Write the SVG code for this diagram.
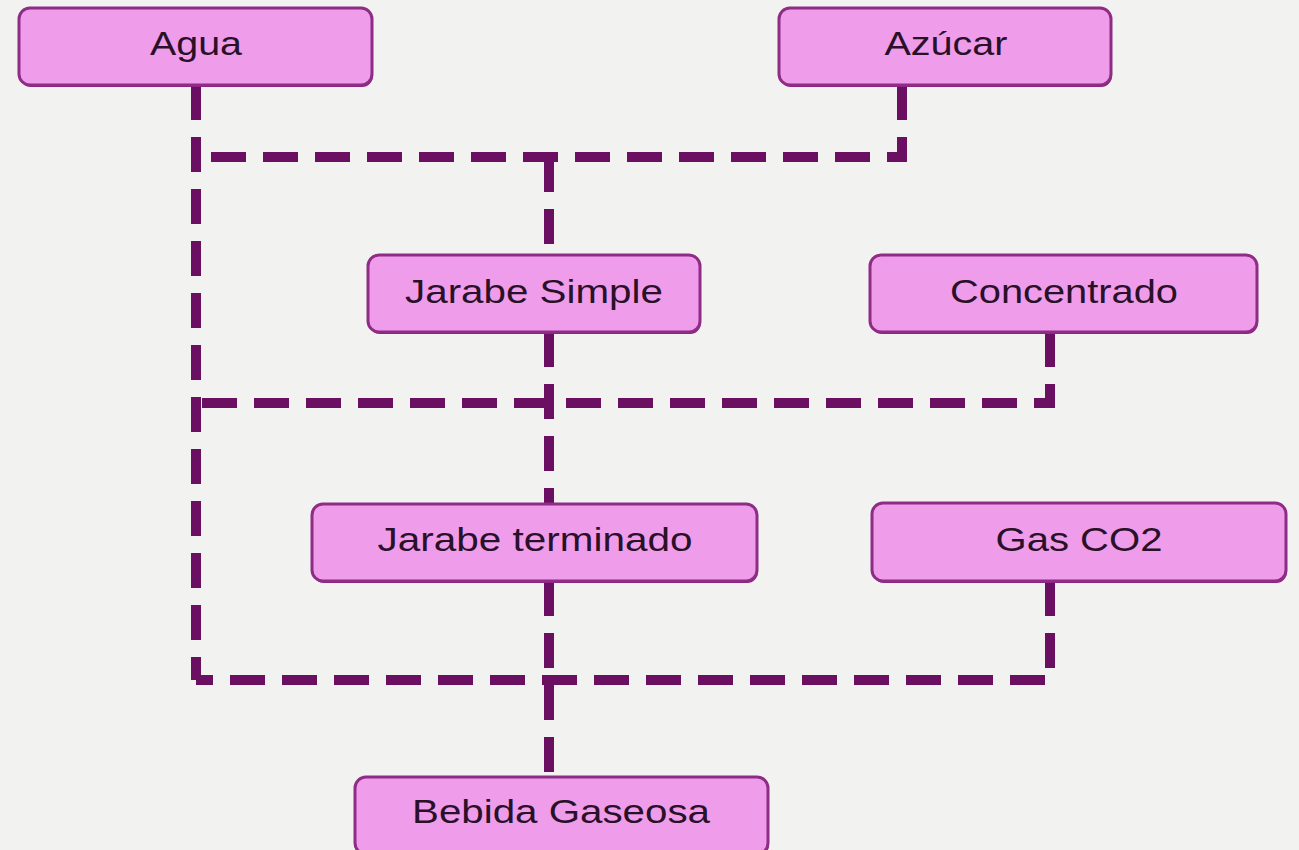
<svg xmlns="http://www.w3.org/2000/svg" width="1299" height="850" viewBox="0 0 1299 850">
<style>
.box{fill:#ef9dea;stroke:#8e2c86;stroke-width:3}
.sh{fill:#8a1f80}
.lbl{font-family:"Liberation Sans",Arial,sans-serif;font-size:33px;fill:#2a1028;text-anchor:middle}
.con{fill:none;stroke:#6a0f62;stroke-width:10;stroke-dasharray:35 17;stroke-linejoin:miter}
</style>
<rect x="0" y="0" width="1299" height="850" fill="#f2f2f0"/>
<g id="connectors">
<path class="con" d="M196 85 V680"/>
<path class="con" d="M902 85 V157 H196"/>
<path class="con" d="M1050 332 V403 H196"/>
<path class="con" d="M1050 581 V680 H196"/>
<path class="con" d="M549 157 V256"/>
<path class="con" d="M549 332 V504"/>
<path class="con" d="M549 581 V777"/>
</g>
<g id="agua"><rect class="sh" x="20" y="10" width="353" height="77" rx="11"/><rect class="box" x="19" y="8" width="353" height="77" rx="11"/><text class="lbl" x="196" y="55" textLength="92" lengthAdjust="spacingAndGlyphs">Agua</text></g>
<g id="azucar"><rect class="sh" x="780" y="10" width="332" height="77" rx="11"/><rect class="box" x="779" y="8" width="332" height="77" rx="11"/><text class="lbl" x="946" y="55" textLength="123" lengthAdjust="spacingAndGlyphs">Azúcar</text></g>
<g id="jarabe-simple"><rect class="sh" x="369" y="257" width="332" height="77" rx="11"/><rect class="box" x="368" y="255" width="332" height="77" rx="11"/><text class="lbl" x="534" y="303" textLength="258" lengthAdjust="spacingAndGlyphs">Jarabe Simple</text></g>
<g id="concentrado"><rect class="sh" x="871" y="257" width="387" height="77" rx="11"/><rect class="box" x="870" y="255" width="387" height="77" rx="11"/><text class="lbl" x="1064" y="303" textLength="228" lengthAdjust="spacingAndGlyphs">Concentrado</text></g>
<g id="jarabe-terminado"><rect class="sh" x="313" y="506" width="445" height="77" rx="11"/><rect class="box" x="312" y="504" width="445" height="77" rx="11"/><text class="lbl" x="535" y="551" textLength="315" lengthAdjust="spacingAndGlyphs">Jarabe terminado</text></g>
<g id="gas-co2"><rect class="sh" x="873" y="505" width="414" height="78" rx="11"/><rect class="box" x="872" y="503" width="414" height="78" rx="11"/><text class="lbl" x="1079" y="551" textLength="167" lengthAdjust="spacingAndGlyphs">Gas CO2</text></g>
<g id="bebida-gaseosa"><rect class="sh" x="356" y="779" width="413" height="77" rx="11"/><rect class="box" x="355" y="777" width="413" height="77" rx="11"/><text class="lbl" x="561" y="823" textLength="298" lengthAdjust="spacingAndGlyphs">Bebida Gaseosa</text></g>
</svg>
